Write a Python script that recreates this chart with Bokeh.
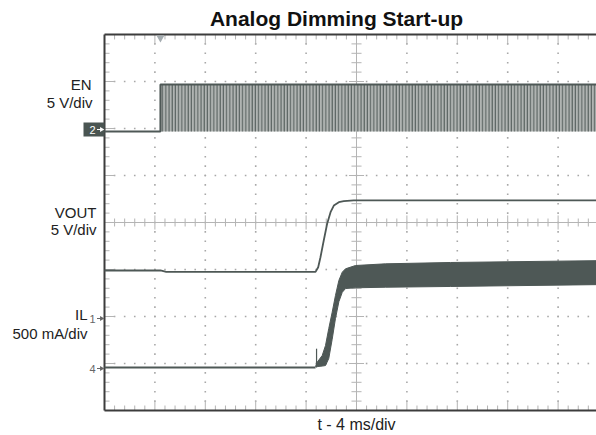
import numpy as np
from bokeh.plotting import figure
from bokeh.models import Range1d, Label
from bokeh.embed import file_html
from bokeh.resources import INLINE

# ---------------- data ----------------
title_text = "Analog Dimming Start-up"
x_label_text = "t - 4 ms/div"
ms_per_div = 4.0
en_v_per_div = 5.0
vout_v_per_div = 5.0
il_a_per_div = 0.5

# ground reference of each channel, in graticule divisions from the bottom
en_ground_div = 5.936
vout_ground_div = 1.979
il_ground_div = 0.915

# EN (PWM enable): low until turn-on, then switching 0 / 5 V
en_t = [-20.0, -15.56, -15.56, 20.0]
en_v = [0.0, 0.0, 5.0, 5.0]
en_pwm_start = -15.56
en_pwm_end = 20.0
en_pwm_high = 5.0

# VOUT
vout_t = [-20.0, -15.56, -15.1, -3.25, -3.04, -2.86, -2.60, -2.33, -2.06,
          -1.80, -1.40, -1.01, -0.21, 20.0]
vout_v = [5.0, 5.0, 4.85, 4.85, 5.35, 6.41, 8.19, 9.97, 11.20,
          11.91, 12.27, 12.37, 12.45, 12.45]

# IL: flat 0 A, then ripple band (upper / lower envelope)
il_t = [-20.0, -3.25]
il_a = [0.0, 0.0]
il_band_t = [-3.25, -3.12, -2.72, -2.46, -2.20, -1.93, -1.67, -1.40, -1.13,
             -0.87, -0.08, 2.30, 7.46, 20.0]
il_band_hi = [0.01, 0.056, 0.128, 0.234, 0.415, 0.588, 0.766, 0.926, 1.014,
              1.05, 1.085, 1.103, 1.117, 1.138]
il_band_lo = [0.01, 0.01, 0.015, 0.021, 0.096, 0.30, 0.52, 0.70, 0.80,
              0.84, 0.848, 0.854, 0.862, 0.883]
il_spike_t = [-3.17, -3.17]
il_spike_a = [0.0, 0.2]

# ---------------- geometry of the picture ----------------
W, H = 596, 435
PX_PER_MS = 12.6     # 50.4 px per 4 ms division
PX_PER_DIV = 47.0
CX, BY = 356.0, 410.0   # pixel of t = 0 and of the graticule bottom


def px_t(px):
    return (px - CX) / PX_PER_MS


def px_d(py):
    return (BY - py) / PX_PER_DIV


XL, XR = px_t(0), px_t(W)
YB, YT = px_d(H), px_d(0)
G0, G1 = -20.0, 20.0   # graticule left / right (ms)

p = figure(width=W, height=H, x_range=Range1d(XL, XR), y_range=Range1d(YB, YT),
           x_axis_type=None, y_axis_type=None, toolbar_location=None,
           output_backend="svg", min_border=0, min_border_left=0, min_border_right=0,
           min_border_top=0, min_border_bottom=0)
p.outline_line_color = None
p.background_fill_color = "white"
p.border_fill_color = "white"


def ch_range(g, s):
    return Range1d((YB - g) * s, (YT - g) * s)


p.extra_y_ranges = {
    "en": ch_range(en_ground_div, en_v_per_div),
    "vout": ch_range(vout_ground_div, vout_v_per_div),
    "il": ch_range(il_ground_div, il_a_per_div),
}

FONT = "Liberation Sans"
GRID = "#a8a8a8"
AXC = "#b4b4b4"
TRACE = "#4e5856"

# graticule dots
dx, dy = [], []
for k in range(1, 10):
    if k == 5:
        continue
    xk = G0 + k * ms_per_div
    for j in range(1, 40):
        dx.append(xk); dy.append(j * 0.2)
for k in range(1, 8):
    if k == 4:
        continue
    for j in range(1, 50):
        dx.append(G0 + j * ms_per_div / 5); dy.append(k)
p.scatter(dx, dy, marker="square", size=1.6, color=GRID, line_color=None)

# center cross
p.segment([G0], [4], [G1], [4], line_color=AXC, line_width=1)
p.segment([0], [0], [0], [8], line_color=AXC, line_width=1)
tx0, ty0, tx1, ty1 = [], [], [], []
for j in range(1, 50):
    x = G0 + j * ms_per_div / 5
    h = 0.15 if j % 5 == 0 else 0.085
    tx0.append(x); ty0.append(4 - h); tx1.append(x); ty1.append(4 + h)
for j in range(1, 40):
    y = j * 0.2
    w = 0.6 if j % 5 == 0 else 0.4
    tx0.append(-w); ty0.append(y); tx1.append(w); ty1.append(y)
p.segment(tx0, ty0, tx1, ty1, line_color=AXC, line_width=1)

# edge ticks
ex0, ey0, ex1, ey1 = [], [], [], []
for j in range(1, 40):
    y = j * 0.2
    L = 0.8 if j % 5 == 0 else 0.4
    ex0.append(G0); ey0.append(y); ex1.append(G0 + L); ey1.append(y)
for j in range(1, 50):
    x = G0 + j * ms_per_div / 5
    L = 0.2 if j % 5 == 0 else 0.106
    ex0 += [x, x]; ey0 += [8, 0]; ex1 += [x, x]; ey1 += [8 - L, L]
p.segment(ex0, ey0, ex1, ey1, line_color=AXC, line_width=1)

# frame edges (left, top, bottom)
p.segment([G0, G0, G0], [0, 8, 0], [G0, G1, G1], [8, 8, 0],
          line_color="#3c3c3c", line_width=2)

# trigger marker
p.scatter([en_pwm_start], [7.93], marker="inverted_triangle", size=8,
          color="#a4acb0", line_color=None)

# EN trace
p.quad(left=[en_pwm_start], right=[en_pwm_end], bottom=[0], top=[en_pwm_high],
       y_range_name="en", fill_color="#b0b4b2", line_color=None,
       hatch_pattern="vertical_line", hatch_color=TRACE, hatch_scale=3.2,
       hatch_weight=1.0)
p.line(en_t, en_v, y_range_name="en", line_color=TRACE, line_width=2)

# VOUT trace
p.line(vout_t, vout_v, y_range_name="vout", line_color=TRACE, line_width=1.8)

# IL trace
p.line(il_t, il_a, y_range_name="il", line_color=TRACE, line_width=2)
p.varea(x=il_band_t, y1=il_band_lo, y2=il_band_hi, y_range_name="il", fill_color=TRACE)
p.line(il_band_t, il_band_hi, y_range_name="il", line_color=TRACE, line_width=1)
p.line(il_band_t, il_band_lo, y_range_name="il", line_color=TRACE, line_width=1)
p.line(il_spike_t, il_spike_a, y_range_name="il", line_color=TRACE, line_width=1.2)

# ---------------- texts ----------------
p.add_layout(Label(x=px_t(336), y=px_d(18), text=title_text, text_align="center",
                   text_baseline="middle", text_font=FONT, text_font_size="21px",
                   text_font_style="bold", text_color="#111111"))
p.add_layout(Label(x=0, y=px_d(424), text=x_label_text, text_align="center",
                   text_baseline="middle", text_font=FONT, text_font_size="16px",
                   text_color="#222222"))

labels = [("EN", 91, 83.5), ("5 V/div", 92, 101.5), ("VOUT", 96, 212),
          ("5 V/div", 96, 228.5), ("IL", 87, 314), ("500 mA/div", 87, 332.5)]
for txt, rx, cy in labels:
    p.add_layout(Label(x=px_t(rx), y=px_d(cy), text=txt, text_align="right",
                       text_baseline="middle", text_font=FONT, text_font_size="15px",
                       text_color="#222222"))

# channel ground markers: "2" in a dark box, "1" and "4" plain, each with a small arrow
p.quad(left=[px_t(83)], right=[px_t(104)], bottom=[px_d(136)], top=[px_d(122)],
       fill_color="#4a5552", line_color=None)
markers = [("2", 129, "white"), ("1", 318, "#666666"), ("4", 368, "#666666")]
ax0, ay0, ax1, ay1, acol, tri_x, tri_y = [], [], [], [], [], [], []
for txt, cy, col in markers:
    p.add_layout(Label(x=px_t(95), y=px_d(cy), text=txt, text_align="right",
                       text_baseline="middle", text_font=FONT, text_font_size="11px",
                       text_color=col))
    ax0.append(px_t(96.5)); ax1.append(px_t(100.5)); ay0.append(px_d(cy)); ay1.append(px_d(cy))
    acol.append(col); tri_x.append(px_t(101)); tri_y.append(px_d(cy))
p.segment(ax0, ay0, ax1, ay1, line_color=acol, line_width=1)
p.scatter(tri_x, tri_y, marker="triangle", angle=-np.pi / 2, size=5,
          color=acol, line_color=None)

open("out.html", "w").write(file_html(p, INLINE))
